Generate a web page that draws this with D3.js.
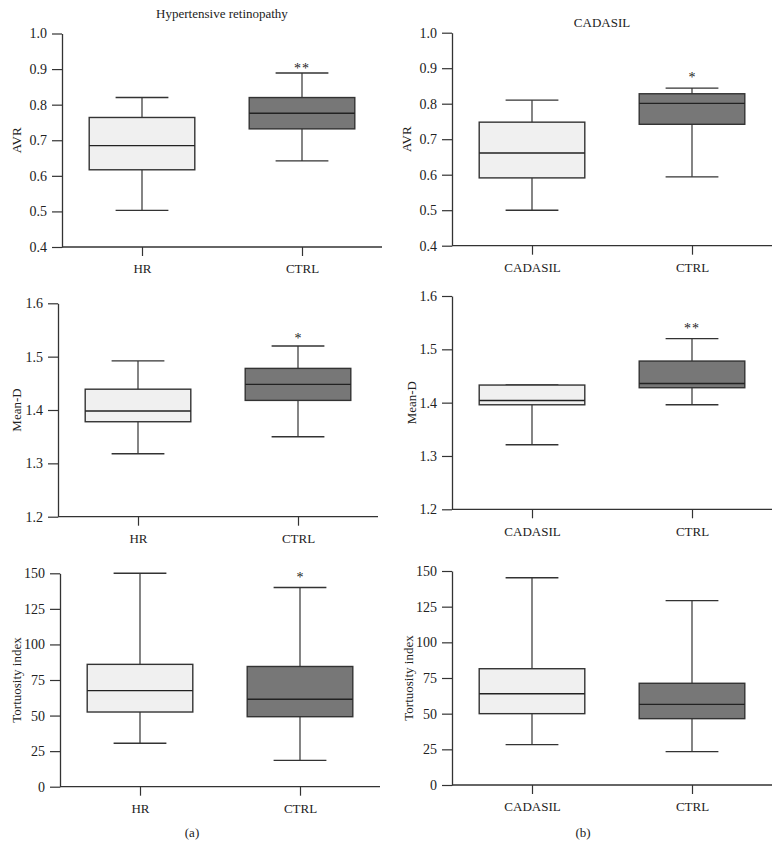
<!DOCTYPE html>
<html>
<head>
<meta charset="utf-8">
<script src="https://cdn.jsdelivr.net/npm/d3@7"></script>
<style>
  body { margin: 0; background: #fff; }
  svg { display: block; }
  text { font-family: "Liberation Serif", "DejaVu Serif", serif; fill: #222; }
</style>
</head>
<body>
<svg id="chart" width="780" height="847"></svg>
<script>
// ---- Data ----
const groupsA = ["HR", "CTRL"];
const groupsB = ["CADASIL", "CTRL"];

// box stats: [min, q1, median, q3, max]
const avrHR       = [0.503, 0.617, 0.685, 0.764, 0.820];
const avrCtrlA    = [0.642, 0.732, 0.776, 0.820, 0.889];
const avrCADASIL  = [0.500, 0.591, 0.661, 0.748, 0.810];
const avrCtrlB    = [0.594, 0.742, 0.801, 0.828, 0.844];

const meanDHR      = [1.318, 1.378, 1.398, 1.439, 1.492];
const meanDCtrlA   = [1.350, 1.418, 1.448, 1.478, 1.520];
const meanDCADASIL = [1.321, 1.396, 1.404, 1.433, 1.433];
const meanDCtrlB   = [1.396, 1.428, 1.436, 1.478, 1.520];

const tortHR      = [30.5, 52.5, 67.5, 86.0, 150.0];
const tortCtrlA   = [18.5, 49.2, 61.5, 84.5, 140.0];
const tortCADASIL = [28.3, 50.0, 64.0, 81.5, 145.3];
const tortCtrlB   = [23.4, 46.5, 56.5, 71.3, 129.2];

const avrTicks  = [0.4, 0.5, 0.6, 0.7, 0.8, 0.9, 1.0];
const meanDTicks = [1.2, 1.3, 1.4, 1.5, 1.6];
const tortTicks = [0, 25, 50, 75, 100, 125, 150];

const fills = ["#f0f0f0", "#777777"];

// panel layout
const panels = [
  { title: "Hypertensive retinopathy", titleX: 222, titleY: 18,
    yLabel: "AVR", groups: groupsA, stats: [avrHR, avrCtrlA], ticks: avrTicks, fmt: d3.format(".1f"),
    x0: 62, x1: 382, yTop: 33.5, yBot: 247, yLabelX: 16,
    star: { g: 1, text: "**", off: 6 } },
  { title: "CADASIL", titleX: 602, titleY: 27,
    yLabel: "AVR", groups: groupsB, stats: [avrCADASIL, avrCtrlB], ticks: avrTicks, fmt: d3.format(".1f"),
    x0: 452, x1: 772, yTop: 32.7, yBot: 245.7, yLabelX: 406,
    star: { g: 1, text: "*", off: 12 } },
  { yLabel: "Mean-D", groups: groupsA, stats: [meanDHR, meanDCtrlA], ticks: meanDTicks, fmt: d3.format(".1f"),
    x0: 58, x1: 378, yTop: 303.3, yBot: 516.7, yLabelX: 16,
    star: { g: 1, text: "*", off: 9 } },
  { yLabel: "Mean-D", groups: groupsB, stats: [meanDCADASIL, meanDCtrlB], ticks: meanDTicks, fmt: d3.format(".1f"),
    x0: 452, x1: 772, yTop: 296, yBot: 509.3, yLabelX: 411,
    star: { g: 1, text: "**", off: 12 } },
  { yLabel: "Tortuosity index", groups: groupsA, stats: [tortHR, tortCtrlA], ticks: tortTicks, fmt: d3.format("d"),
    x0: 60, x1: 380, yTop: 573.3, yBot: 786.7, yLabelX: 16,
    star: { g: 1, text: "*", off: 12 } },
  { yLabel: "Tortuosity index", groups: groupsB, stats: [tortCADASIL, tortCtrlB], ticks: tortTicks, fmt: d3.format("d"),
    x0: 452, x1: 772, yTop: 571, yBot: 785, yLabelX: 408 }
];

const svg = d3.select("#chart");
const stroke = "#333";
const fontSize = 13;
const tickFont = 14;

panels.forEach(p => {
  const g = svg.append("g");
  const x = d3.scalePoint().domain(p.groups).range([p.x0, p.x1]).padding(0.5);
  const y = d3.scaleLinear().domain([p.ticks[0], p.ticks[p.ticks.length - 1]]).range([p.yBot, p.yTop]);
  const plotW = p.x1 - p.x0;
  const boxW = plotW * 0.33;
  const capW = boxW * 0.5;

  // Y axis
  const yAxis = g.append("g").attr("transform", `translate(${p.x0},0)`)
    .call(d3.axisLeft(y).tickValues(p.ticks).tickFormat(p.fmt).tickSize(10).tickSizeOuter(0).tickPadding(5));
  // X axis
  const xAxis = g.append("g").attr("transform", `translate(0,${p.yBot})`)
    .call(d3.axisBottom(x).tickSize(9).tickSizeOuter(0).tickPadding(8));
  [yAxis, xAxis].forEach(a => {
    a.select(".domain").attr("stroke", stroke).attr("stroke-width", 1.3);
    a.selectAll(".tick line").attr("stroke", stroke).attr("stroke-width", 1.2);
    a.selectAll(".tick text").attr("font-family", "Liberation Serif, serif").attr("fill", "#222");
  });
  yAxis.selectAll(".tick text").attr("font-size", tickFont);
  xAxis.selectAll(".tick text").attr("font-size", fontSize);
  xAxis.select(".domain").attr("d", `M${p.x0},0H${p.x1}`);

  // Boxes
  p.groups.forEach((name, i) => {
    const s = p.stats[i];
    const cx = x(name);
    const bg = g.append("g");
    // whiskers
    bg.append("line").attr("x1", cx).attr("x2", cx).attr("y1", y(s[4])).attr("y2", y(s[3]))
      .attr("stroke", stroke).attr("stroke-width", 1.2);
    bg.append("line").attr("x1", cx).attr("x2", cx).attr("y1", y(s[1])).attr("y2", y(s[0]))
      .attr("stroke", stroke).attr("stroke-width", 1.2);
    // caps
    [s[0], s[4]].forEach(v => {
      bg.append("line").attr("x1", cx - capW / 2).attr("x2", cx + capW / 2)
        .attr("y1", y(v)).attr("y2", y(v)).attr("stroke", stroke).attr("stroke-width", 1.4);
    });
    // box
    bg.append("rect").attr("x", cx - boxW / 2).attr("width", boxW)
      .attr("y", y(s[3])).attr("height", y(s[1]) - y(s[3]))
      .attr("fill", fills[i]).attr("stroke", stroke).attr("stroke-width", 1.4);
    // median
    bg.append("line").attr("x1", cx - boxW / 2).attr("x2", cx + boxW / 2)
      .attr("y1", y(s[2])).attr("y2", y(s[2])).attr("stroke", "#222").attr("stroke-width", 1.4);
  });

  // significance stars
  if (p.star) {
    const s = p.stats[p.star.g];
    g.append("text").attr("x", x(p.groups[p.star.g])).attr("y", y(s[4]) - p.star.off + 6)
      .attr("text-anchor", "middle").attr("font-size", 14).attr("fill", "#444")
      .attr("letter-spacing", p.star.text.length > 1 ? 1 : 0)
      .text(p.star.text);
  }

  // y label
  const cy = (p.yTop + p.yBot) / 2;
  g.append("text").attr("transform", `translate(${p.yLabelX},${cy}) rotate(-90)`)
    .attr("text-anchor", "middle").attr("dominant-baseline", "central")
    .attr("font-size", fontSize).text(p.yLabel);

  // title
  if (p.title) {
    g.append("text").attr("x", p.titleX).attr("y", p.titleY)
      .attr("text-anchor", "middle").attr("font-size", fontSize).text(p.title);
  }
});

// sub-figure labels
const subLabels = ["(a)", "(b)"];
const subX = [192, 583];
subLabels.forEach((t, i) => {
  svg.append("text").attr("x", subX[i]).attr("y", 837).attr("text-anchor", "middle")
    .attr("font-size", fontSize).text(t);
});
</script>
</body>
</html>
